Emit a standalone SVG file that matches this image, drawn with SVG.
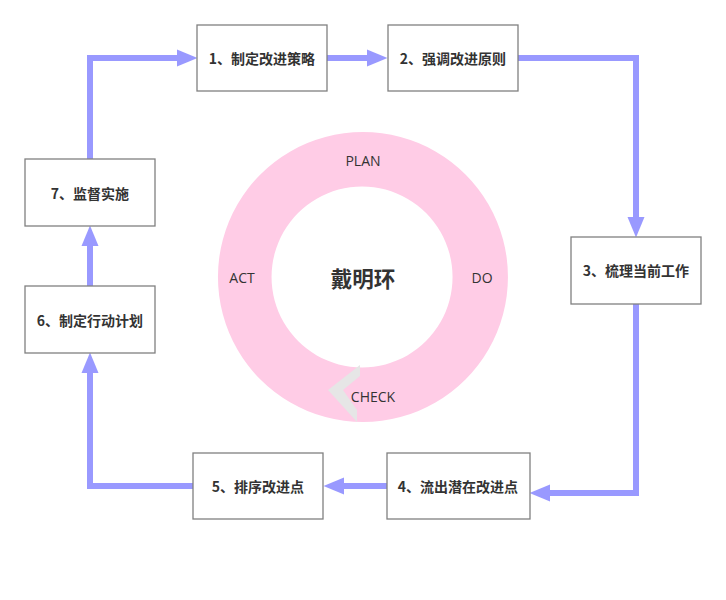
<svg xmlns="http://www.w3.org/2000/svg" width="726" height="600" viewBox="0 0 726 600">
<defs>
<style>
.box{fill:#ffffff;stroke:#808080;stroke-width:1.3}
.lbl{font-family:"Noto Sans CJK SC","Liberation Sans",sans-serif;font-size:14px;font-weight:bold;fill:#333333;text-anchor:middle;dominant-baseline:central}
.ring{font-family:"Open Sans","Liberation Sans",sans-serif;font-size:14px;fill:#333333;text-anchor:middle;dominant-baseline:central}
.conn{fill:none;stroke:#9999ff;stroke-width:6;stroke-linejoin:miter}
</style>
<marker id="ah" markerUnits="userSpaceOnUse" markerWidth="21" markerHeight="18" refX="0" refY="8.5" orient="auto" viewBox="0 0 21 17">
<path d="M0,0 L20.5,8.5 L0,17 Z" fill="#9999ff"/>
</marker>
</defs>
<rect width="726" height="600" fill="#ffffff"/>
<g id="cycle">
<path d="M363,132 A145,145 0 1 1 362.9,132 Z M362,186.5 A90.5,90.5 0 1 0 362.1,186.5 Z" fill="#ffcce6" fill-rule="evenodd"/>
<path d="M360,365 L328,390 L357,422 L357,410 L343,390 L360,376 Z" fill="#e6e6e6"/>
<text class="ring" x="363" y="160">PLAN</text>
<text class="ring" x="482" y="277">DO</text>
<text class="ring" x="373" y="396">CHECK</text>
<text class="ring" x="242" y="277">ACT</text>
<text x="363" y="277" font-family="Noto Sans CJK SC,sans-serif" font-size="21.5" font-weight="bold" fill="#333333" text-anchor="middle" dominant-baseline="central">戴明环</text>
</g>
<g id="connectors">
<path class="conn" d="M90,159 L90,58 L177,58" marker-end="url(#ah)"/>
<path class="conn" d="M327,58 L367,58" marker-end="url(#ah)"/>
<path class="conn" d="M518,58 L636,58 L636,217" marker-end="url(#ah)"/>
<path class="conn" d="M636,304 L636,493 L550,493" marker-end="url(#ah)"/>
<path class="conn" d="M387,486 L344,486" marker-end="url(#ah)"/>
<path class="conn" d="M193,486 L90,486 L90,373" marker-end="url(#ah)"/>
<path class="conn" d="M90,286 L90,246" marker-end="url(#ah)"/>
</g>
<g id="n1"><rect class="box" x="197" y="25" width="130" height="66"/><text class="lbl" x="262" y="58">1、制定改进策略</text></g>
<g id="n2"><rect class="box" x="388" y="25" width="130" height="66"/><text class="lbl" x="453" y="58">2、强调改进原则</text></g>
<g id="n3"><rect class="box" x="571" y="237" width="130" height="67"/><text class="lbl" x="636" y="270">3、梳理当前工作</text></g>
<g id="n4"><rect class="box" x="387" y="453" width="143" height="66"/><text class="lbl" x="458" y="486">4、流出潜在改进点</text></g>
<g id="n5"><rect class="box" x="193" y="453" width="130" height="66"/><text class="lbl" x="258" y="486">5、排序改进点</text></g>
<g id="n6"><rect class="box" x="25" y="286" width="130" height="67"/><text class="lbl" x="90" y="320">6、制定行动计划</text></g>
<g id="n7"><rect class="box" x="25" y="159" width="130" height="67"/><text class="lbl" x="90" y="193">7、监督实施</text></g>
</svg>
